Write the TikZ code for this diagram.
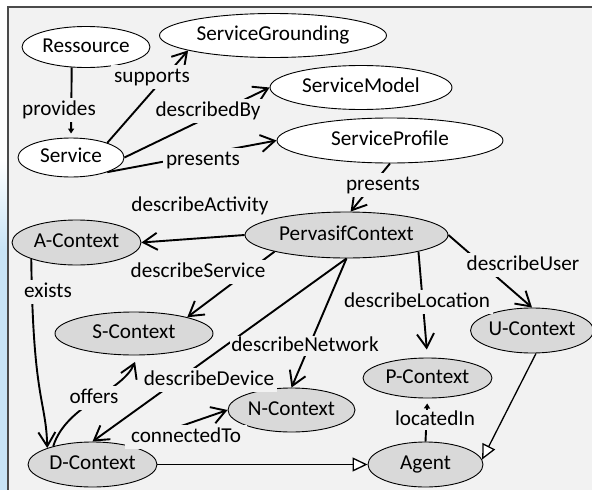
\documentclass[tikz,border=0pt]{standalone}
\usepackage{fontspec}
\setmainfont{Carlito}
\usetikzlibrary{shapes.geometric,arrows.meta}

\definecolor{framebg}{HTML}{F2F2F2}
\definecolor{ctxfill}{HTML}{D9D9D9}
\definecolor{framecol}{HTML}{4A4A4A}
\definecolor{stripblue}{HTML}{C8E4F6}

\tikzset{
  concept/.style={ellipse, draw=black, line width=0.9pt, inner sep=0pt,
    text height=14pt, text depth=4pt},
  svc/.style={concept, fill=white},
  ctx/.style={concept, fill=ctxfill},
  rel/.style={line width=1.9pt, -{Straight Barb[length=14pt,width=17pt]}},
  relsmall/.style={line width=1.9pt, -{Triangle[length=5pt,width=6pt]}},
  isa/.style={line width=1.3pt, -{Triangle[length=15pt,width=14pt,fill=white]}},
  lbl/.style={fill=framebg, inner sep=3pt, text height=14pt, text depth=4pt}
}

\begin{document}
\begin{tikzpicture}[x=1pt, y=-1pt, font=\fontsize{21.2}{25}\selectfont]
        \useasboundingbox (0,0) rectangle (592,490);

        % 0. Frame
        \shade[top color=white, bottom color=stripblue] (0,160) rectangle (8,250);
        \fill[stripblue] (0,250) rectangle (8,490);
        \fill[framebg] (8,7) rectangle (592,490);
        \draw[framecol, line width=1.5pt] (8,490) -- (8,7) -- (592,7);

        % 1. Service side (white)
        \node[svc, minimum width=128pt, minimum height=41pt] (res) at (86,47)    {Ressource};
        \node[svc, minimum width=227pt, minimum height=44pt] (sg)  at (273,35.5) {ServiceGrounding};
        \node[svc, minimum width=182pt, minimum height=44pt] (sm)  at (361,87.5) {ServiceModel};
        \node[svc, minimum width=226pt, minimum height=45pt] (sp)  at (390,140.5) {ServiceProfile};
        \node[svc, minimum width=106pt, minimum height=39pt] (srv) at (71,157.5) {Service};

        % 2. Context side (gray)
        \node[ctx, minimum width=203pt, minimum height=46pt] (pc)  at (346.5,235) {PervasifContext};
        \node[ctx, minimum width=129pt, minimum height=45pt] (ac)  at (76.5,242.5) {A-Context};
        \node[ctx, minimum width=158pt, minimum height=43pt] (sc)  at (134,333.5) {S-Context};
        \node[ctx, minimum width=127pt, minimum height=44pt] (nc)  at (291.5,410) {N-Context};
        \node[ctx, minimum width=129pt, minimum height=40pt] (pcx) at (427.5,378) {P-Context};
        \node[ctx, minimum width=118pt, minimum height=45pt] (uc)  at (532,330.5) {U-Context};
        \node[ctx, minimum width=129pt, minimum height=45pt] (dc)  at (92.5,464.5) {D-Context};
        \node[ctx, minimum width=115pt, minimum height=45pt] (ag)  at (425.5,464.5) {Agent};

        % 3. Relations
        \draw[relsmall, shorten >=4pt] (res.235) -- (srv.north);
        \draw[rel] (srv.22) -- (sg.190);
        \draw[rel] (srv.east) -- (sm.west);
        \draw[rel] (srv.-22) -- (sp.west);
        \draw[rel] (sp.south) -- (pc.80);

        % the fan out of PervasifContext
        \draw[rel] (pc.west) -- (ac.east);
        \draw[rel] (pc.193) -- (sc.17);
        \draw[rel] (pc.south) -- (dc.north);
        \draw[rel] (pc.south) -- (nc.north);
        \draw[rel, shorten >=8pt] (pc.-13) -- (pcx.north);
        \draw[rel] (pc.east) -- (uc.north);

        % left column and bottom row
        \draw[rel] (ac.200) .. controls (33,400) and (46,400) .. (dc.160);
        \draw[rel, shorten >=7pt] (dc.155) .. controls (66,405) and (122,392) .. (sc.-80);
        \draw[rel] (dc.30) -- (nc.west);
        \draw[relsmall, shorten >=5pt] (ag.north) -- (pcx.south);
        \draw[isa] (dc.east) -- (ag.west);
        \draw[isa] (uc.-80) -- (ag.5);

        % 4. Labels
        \node[lbl] (lprov)  at (59,110)  {provides};
        \node[lbl] (lsupp)  at (152,77)  {supports};
        \node[lbl] (ldesc)  at (208,111) {describedBy};
        \node[lbl] (lpres)  at (203,160) {presents};
        \node[lbl] (lpres2) at (383,185) {presents};
        \node[lbl] (lact)   at (200,206) {describeActivity};
        \node[lbl] (lserv)  at (198,272) {describeService};
        \node[lbl] (lexist) at (48,292)  {exists};
        \node[lbl] (loffer) at (94,398)  {offers};
        \node[lbl] (ldev)   at (209,380) {describeDevice};
        \node[lbl, inner sep=1pt] (lnet) at (305,346) {describeNetwork};
        \node[lbl, inner xsep=6pt] (lconn) at (186,437) {connectedTo};
        \node[lbl] (lloc)   at (417,302) {describeLocation};
        \node[lbl] (luser)  at (523,265) {describeUser};
        \node[lbl, inner ysep=1pt] (llocin) at (435,420) {locatedIn};
    \end{tikzpicture}
\end{document}
